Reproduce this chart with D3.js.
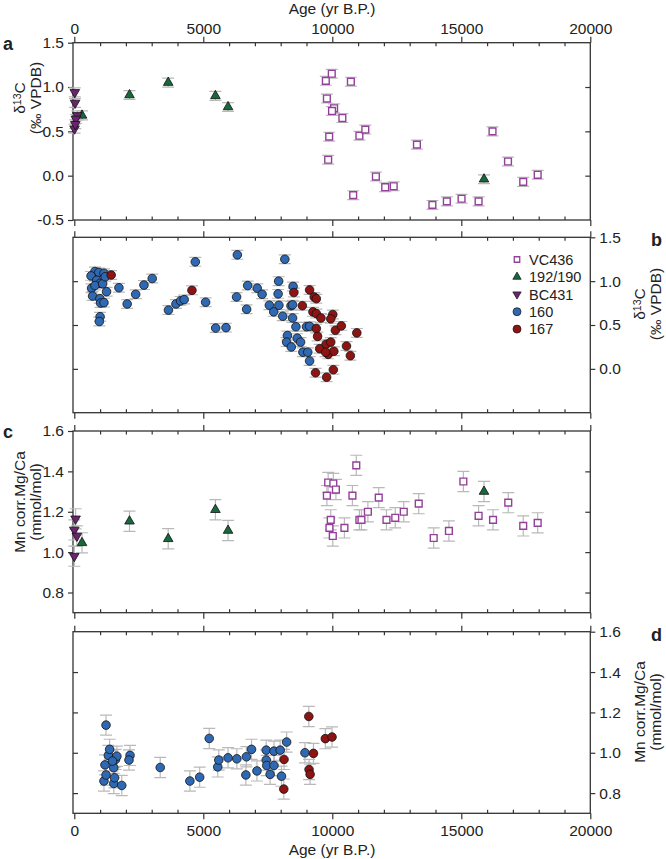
<!DOCTYPE html>
<html>
<head>
<meta charset="utf-8">
<script src="https://cdn.jsdelivr.net/npm/d3@7"></script>
<style>
  body { margin: 0; background: #fff; }
  text { font-family: "Liberation Sans", Arial, sans-serif; fill: #222; }
</style>
</head>
<body>
<svg id="chart" width="666" height="859"></svg>
<script>
// ---- data (age in yr B.P., value) ----
const vcD13C = [[9750,1.07],[9980,1.15],[9790,0.87],[10070,0.76],[9990,0.73],[10390,0.65],[10720,1.06],
  [9880,0.44],[9840,0.18],[11050,0.45],[11280,0.52],[10810,-0.22],[11690,-0.01],[12050,-0.13],[12380,-0.12],
  [13280,0.35],[13880,-0.33],[14440,-0.29],[15010,-0.26],[15670,-0.29],[16210,0.50],[16810,0.16],[17400,-0.07],[17960,0.01]]
const triD13C = [[300,0.68],[2140,0.91],[3640,1.05],[5470,0.90],[5960,0.775],[15880,-0.04]]
const bcD13C = [[20,0.94],[30,0.82],[120,0.68],[60,0.64],[10,0.53],[40,0.58]]

const c160D13C = [[800,1.11],[950,1.10],[1150,1.09],[650,1.06],[870,1.01],[1000,0.975],[670,0.92],[710,0.83],
  [990,0.80],[1730,0.925],[1020,0.75],[1150,0.755],[1000,0.595],[970,0.54],[1250,0.88],[800,0.95],[1100,0.97],
  [1200,1.05],[2050,0.74],[2380,0.85],[2700,0.955],[3020,1.03],[3650,0.67],[3940,0.74],[4120,0.775],[4260,0.79],
  [4690,1.22],[5090,0.76],[5480,0.465],[5880,0.47],[6320,1.30],[6290,0.82],[6680,0.68],[6720,0.95],[7090,0.92],
  [7280,0.85],[7560,0.725],[7730,0.65],[7920,1.0],[7900,0.855],[7930,0.725],[8080,0.60],[8160,1.25],[8480,0.94],
  [8400,0.72],[8460,0.73],[8460,0.58],[8590,0.48],[8260,0.38],[8230,0.305],[8410,0.25],[8640,0.35],[8770,0.305],
  [8860,0.19],[9000,0.48],[9120,0.485],[9050,0.19],[9120,0.09]]
const c167D13C = [[1430,1.07],[4560,0.895],[8510,0.87],[8840,0.72],[9120,0.90],[9300,0.82],[9380,0.80],[9250,0.65],
  [9380,0.63],[9560,0.58],[9380,0.46],[9430,0.37],[9510,0.23],[9760,0.28],[9840,0.165],[10020,0.62],[9940,0.57],
  [10060,0.20],[10120,0.44],[10350,0.49],[9940,0.305],[10550,0.26],[10700,0.15],[10950,0.41],[9350,-0.045],
  [9780,-0.095],[10040,-0.01],[9740,0.19]]

const vcMgCa = [[9790,1.28],[9840,1.345],[10040,1.34],[10140,1.31],[9940,1.16],[9890,1.12],[10020,1.08],[10470,1.12],
  [10780,1.28],[10930,1.43],[11050,1.16],[11130,1.16],[11380,1.20],[11800,1.27],[12100,1.16],[12440,1.17],
  [12770,1.20],[13350,1.24],[13930,1.07],[14520,1.105],[15080,1.35],[15670,1.18],[16230,1.16],[16820,1.245],
  [17400,1.13],[17960,1.145]]
const triMgCa = [[300,1.046],[2140,1.153],[3640,1.066],[5470,1.21],[5960,1.107],[15880,1.30]]
const bcMgCa = [[50,1.165],[0,1.11],[100,1.08],[0,0.98]]

const c160MgCa = [[1230,1.137],[1150,0.86],[1230,0.89],[1190,0.94],[1320,0.987],[1370,1.017],[1530,0.848],
  [1560,0.876],[1530,0.926],[1600,0.967],[1650,0.983],[1480,0.959],[1840,0.838],[2160,0.987],[2120,0.964],
  [3330,0.927],[4480,0.86],[4860,0.879],[5230,1.071],[5560,0.93],[5600,0.964],[5960,0.975],[6300,0.97],
  [6670,0.98],[6650,0.89],[6870,1.017],[7080,0.91],[7440,0.964],[7440,1.013],[7460,0.937],[7590,0.893],
  [7740,0.937],[7740,1.008],[7980,1.013],[8030,0.884],[8230,1.053],[8940,1.0]]
const c167MgCa = [[8130,0.967],[8120,0.82],[9090,1.18],[9100,0.917],[9140,0.893],[9270,0.997],[9730,1.07],[9990,1.078]]

const xMajor = [0, 5000, 10000, 15000, 20000]
const xMinor = [1000,2000,3000,4000,6000,7000,8000,9000,11000,12000,13000,14000,16000,17000,18000,19000]
const legendNames = ['VC436', '192/190', 'BC431', '160', '167']

// ---- styles ----
const C = {
  axis: '#333', err: '#b9b9b9', purple: '#93409a', green: '#17693b',
  down: '#6b2470', blue: '#3069b3', red: '#8e1313'
}
const ERR = 0.05
const FS = '15.5px'

const svg = d3.select('#chart')
const x = d3.scaleLinear().domain([-50, 20000]).range([73, 590.3])
const fmt = d => d.toFixed(1)

const panels = [
  { key: 'a', top: 42.7, bottom: 220, domain: [-0.5, 1.5], side: 'left',
    labTicks: [-0.5, 0, 0.5, 1, 1.5], inTicks: [0, 0.5, 1], title: 'd13c', tY: 98 },
  { key: 'b', top: 237.3, bottom: 412.7, domain: [-0.5, 1.5], side: 'right',
    labTicks: [0, 0.5, 1, 1.5], inTicks: [0, 0.5, 1], title: 'd13c', tY: 304 },
  { key: 'c', top: 431, bottom: 612.7, domain: [0.7, 1.6], side: 'left',
    labTicks: [0.8, 1.0, 1.2, 1.4, 1.6], inTicks: [0.8, 1.0, 1.2, 1.4], title: 'mg', tY: 502 },
  { key: 'd', top: 631.7, bottom: 813.3, domain: [0.7, 1.6], side: 'right',
    labTicks: [0.8, 1.0, 1.2, 1.4, 1.6], inTicks: [0.8, 1.0, 1.2, 1.4], title: 'mg', tY: 712 }
]

panels.forEach(p => { p.y = d3.scaleLinear().domain(p.domain).range([p.bottom, p.top]) })

function styleAxis(g) {
  g.select('.domain').remove()
  g.selectAll('line').attr('stroke', C.axis).attr('stroke-width', 1.2)
  g.selectAll('text').style('font-size', FS).attr('fill', '#222')
}

panels.forEach((p, i) => {
  const g = svg.append('g')
  const L = x.range()[0], R = x.range()[1]

  // x axes on top and bottom edges: majors outward, minors inward
  const showTop = i === 0, showBottom = i === panels.length - 1
  g.append('g').attr('transform', `translate(0,${p.top})`)
    .call(d3.axisTop(x).tickValues(xMajor).tickSize(6).tickPadding(3)
      .tickFormat(showTop ? d3.format('d') : ''))
    .call(styleAxis)
  g.append('g').attr('transform', `translate(0,${p.top})`)
    .call(d3.axisTop(x).tickValues(xMinor).tickSize(-3.5).tickFormat(''))
    .call(styleAxis)
  g.append('g').attr('transform', `translate(0,${p.bottom})`)
    .call(d3.axisBottom(x).tickValues(xMajor).tickSize(6).tickPadding(6)
      .tickFormat(showBottom ? d3.format('d') : ''))
    .call(styleAxis)
  g.append('g').attr('transform', `translate(0,${p.bottom})`)
    .call(d3.axisBottom(x).tickValues(xMinor).tickSize(-3.5).tickFormat(''))
    .call(styleAxis)

  // y axes
  const labAxis = p.side === 'left' ? d3.axisLeft(p.y) : d3.axisRight(p.y)
  const plainAxis = p.side === 'left' ? d3.axisRight(p.y) : d3.axisLeft(p.y)
  g.append('g').attr('transform', `translate(${p.side === 'left' ? L : R},0)`)
    .call(labAxis.tickValues(p.labTicks).tickSize(5).tickPadding(4).tickFormat(fmt))
    .call(styleAxis)
  g.append('g').attr('transform', `translate(${p.side === 'left' ? R : L},0)`)
    .call(plainAxis.tickValues(p.inTicks).tickSize(-5).tickFormat(''))
    .call(styleAxis)

  // frame
  g.append('rect').attr('x', L).attr('y', p.top).attr('width', R - L).attr('height', p.bottom - p.top)
    .attr('fill', 'none').attr('stroke', C.axis).attr('stroke-width', 1.3)

  // panel letter
  g.append('text').attr('x', p.side === 'left' ? 3 : 651)
    .attr('y', p.top + (p.side === 'left' ? 7 : 9))
    .style('font-size', '18px').style('font-weight', 'bold').text(p.key)

  // axis title (two rotated lines)
  const xs = p.side === 'left' ? [25, 41] : [645, 661]
  const t1 = g.append('text').attr('transform', `translate(${xs[0]},${p.tY}) rotate(-90)`)
    .attr('text-anchor', 'middle').style('font-size', '15.5px')
  const t2 = g.append('text').attr('transform', `translate(${xs[1]},${p.tY}) rotate(-90)`)
    .attr('text-anchor', 'middle').style('font-size', '15.5px')
  if (p.title === 'd13c') {
    t1.append('tspan').text('δ')
    t1.append('tspan').attr('baseline-shift', '38%').style('font-size', '10.5px').text('13')
    t1.append('tspan').text('C')
    t2.text('(‰ VPDB)')
  } else {
    t1.text('Mn corr.Mg/Ca')
    t2.text('(mmol/mol)')
  }
})

// axis titles for age
svg.append('text').attr('x', 332).attr('y', 14).attr('text-anchor', 'middle')
  .style('font-size', FS).text('Age (yr B.P.)')
svg.append('text').attr('x', 332).attr('y', 855).attr('text-anchor', 'middle')
  .style('font-size', FS).text('Age (yr B.P.)')

// ---- marks ----
const sqSym = d3.symbol(d3.symbolSquare, 46)()
const triSym = d3.symbol(d3.symbolTriangle, 40)()

function errBars(p, data) {
  svg.append('g').selectAll('path').data(data).join('path')
    .attr('d', d => {
      const cx = x(d[0]), y1 = p.y(d[1] - ERR), y2 = p.y(d[1] + ERR), w = 6
      return `M${cx},${y1}V${y2}M${cx - w},${y1}H${cx + w}M${cx - w},${y2}H${cx + w}`
    })
    .attr('fill', 'none').attr('stroke', C.err).attr('stroke-width', 1.2)
}

function squares(p, data) {
  svg.append('g').selectAll('path').data(data).join('path')
    .attr('d', sqSym).attr('transform', d => `translate(${x(d[0])},${p.y(d[1])})`)
    .attr('fill', '#fff').attr('stroke', C.purple).attr('stroke-width', 1.4)
}
function tris(p, data, down) {
  svg.append('g').selectAll('path').data(data).join('path')
    .attr('d', triSym)
    .attr('transform', d => `translate(${x(d[0])},${p.y(d[1])})${down ? ' rotate(180)' : ''}`)
    .attr('fill', down ? C.down : C.green).attr('stroke', '#111').attr('stroke-width', 0.8)
}
function dots(p, data, color) {
  svg.append('g').selectAll('circle').data(data).join('circle')
    .attr('cx', d => x(d[0])).attr('cy', d => p.y(d[1])).attr('r', 4.3)
    .attr('fill', color).attr('stroke', '#111').attr('stroke-width', 0.8)
}

const [pa, pb, pc, pd] = panels

errBars(pa, [...vcD13C, ...triD13C, ...bcD13C])
squares(pa, vcD13C); tris(pa, triD13C, false); tris(pa, bcD13C, true)

errBars(pb, [...c160D13C, ...c167D13C])
dots(pb, c160D13C, C.blue); dots(pb, c167D13C, C.red)

errBars(pc, [...vcMgCa, ...triMgCa, ...bcMgCa])
squares(pc, vcMgCa); tris(pc, triMgCa, false); tris(pc, bcMgCa, true)

errBars(pd, [...c160MgCa, ...c167MgCa])
dots(pd, c160MgCa, C.blue); dots(pd, c167MgCa, C.red)

// ---- legend (panel b) ----
const leg = svg.append('g')
legendNames.forEach((name, i) => {
  const ly = 259.5 + i * 17.4, lx = 517
  if (i === 0) leg.append('path').attr('d', d3.symbol(d3.symbolSquare, 30)())
    .attr('transform', `translate(${lx},${ly})`).attr('fill', '#fff').attr('stroke', C.purple).attr('stroke-width', 1.3)
  else if (i === 1 || i === 2) leg.append('path').attr('d', d3.symbol(d3.symbolTriangle, 30)())
    .attr('transform', `translate(${lx},${ly})${i === 2 ? ' rotate(180)' : ''}`)
    .attr('fill', i === 1 ? C.green : C.down).attr('stroke', '#111').attr('stroke-width', 0.7)
  else leg.append('circle').attr('cx', lx).attr('cy', ly).attr('r', 4)
    .attr('fill', i === 3 ? C.blue : C.red).attr('stroke', '#111').attr('stroke-width', 0.7)
  leg.append('text').attr('x', lx + 12).attr('y', ly).attr('dy', '0.36em')
    .style('font-size', '14.5px').text(name)
})
</script>
</body>
</html>
